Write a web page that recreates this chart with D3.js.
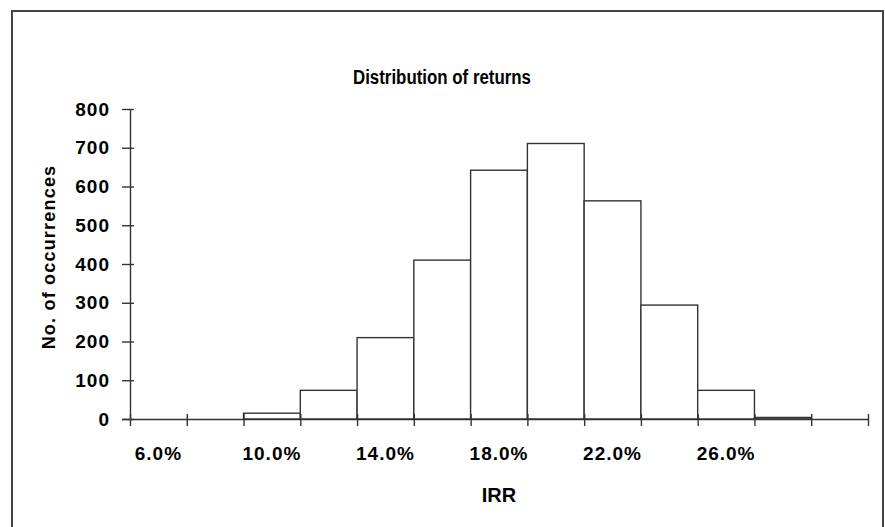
<!DOCTYPE html>
<html>
<head>
<meta charset="utf-8">
<script src="https://cdn.jsdelivr.net/npm/d3@7"></script>
<style>
  body { margin: 0; background: #fff; }
  text { font-family: "Liberation Sans", Arial, sans-serif; font-weight: bold; fill: #000; }
</style>
</head>
<body>
<div id="chart"></div>
<script>
// Histogram bins (IRR) and counts
const categories = ["6.0%", "8.0%", "10.0%", "12.0%", "14.0%", "16.0%", "18.0%",
	"20.0%", "22.0%", "24.0%", "26.0%", "28.0%", "30.0%"];
const counts = [0, 0, 15, 74, 210, 410, 642, 711, 563, 294, 74, 4, 0];
const xLabels = ["6.0%", "10.0%", "14.0%", "18.0%", "22.0%", "26.0%"];
const yTicks = [0, 100, 200, 300, 400, 500, 600, 700, 800];

const width = 885, height = 527;
const plotLeft = 130, plotRight = 868, plotTop = 109, plotBottom = 419;
const lineColor = "#333";

const svg = d3.select("#chart")
	.append("svg")
	.attr("width", width)
	.attr("height", height);

// chart border
svg.append("rect")
	.attr("x", 12)
	.attr("y", 11)
	.attr("width", 871)
	.attr("height", 530)
	.attr("fill", "none")
	.attr("stroke", "#444")
	.attr("stroke-width", 2);

const x = d3.scaleBand().domain(categories).range([plotLeft, plotRight]).padding(0);
const xEdge = d3.scaleLinear().domain([0, categories.length]).range([plotLeft, plotRight]);
const y = d3.scaleLinear().domain([0, 800]).range([plotBottom, plotTop]);

// bars
svg.append("g")
	.selectAll("rect")
	.data(categories)
	.enter()
	.append("rect")
	.attr("x", (d) => x(d))
	.attr("y", (d, i) => y(counts[i]))
	.attr("width", x.bandwidth())
	.attr("height", (d, i) => y(0) - y(counts[i]))
	.attr("fill", "#fff")
	.attr("stroke", lineColor)
	.attr("stroke-width", (d, i) => counts[i] > 0 ? 1.4 : 0);

// y axis
const yAxis = svg.append("g")
	.attr("transform", `translate(${plotLeft},0)`)
	.call(d3.axisLeft(y).tickValues(yTicks).tickSize(8).tickSizeOuter(0).tickPadding(12));
yAxis.selectAll(".tick line").attr("x1", 4);
yAxis.select(".domain").attr("d", `M0.5,${plotTop}V${plotBottom}`);

// x axis: ticks at bin edges
const xAxis = svg.append("g")
	.attr("transform", `translate(0,${plotBottom})`)
	.call(d3.axisBottom(xEdge).tickValues(d3.range(categories.length + 1)).tickFormat("").tickSize(7).tickSizeOuter(0));
xAxis.selectAll(".tick line").attr("y1", -5);
xAxis.select(".domain").attr("d", `M${plotLeft - 8},0.5H${plotRight}`);

// x labels centred in the bins
svg.append("g")
	.attr("transform", `translate(0,${plotBottom})`)
	.call(d3.axisBottom(x).tickValues(xLabels).tickSize(0).tickPadding(28))
	.call((g) => g.select(".domain").remove());

svg.selectAll(".domain, .tick line")
	.attr("stroke", lineColor)
	.attr("stroke-width", 1.4);
svg.selectAll(".tick text")
	.style("font-size", "19px")
	.style("letter-spacing", "1px")
	.style("font-family", "'Liberation Sans', Arial, sans-serif")
	.style("font-weight", "bold");

// titles
svg.append("text")
	.attr("x", 442)
	.attr("y", 84)
	.attr("text-anchor", "middle")
	.style("font-size", "20px")
	.attr("textLength", 178)
	.attr("lengthAdjust", "spacingAndGlyphs")
	.text("Distribution of returns");

svg.append("text")
	.attr("x", (plotLeft + plotRight) / 2)
	.attr("y", 502)
	.attr("text-anchor", "middle")
	.style("font-size", "20px")
	.text("IRR");

svg.append("text")
	.attr("transform", `translate(55,257) rotate(-90)`)
	.attr("text-anchor", "middle")
	.style("font-size", "18px")
	.style("letter-spacing", "1.2px")
	.text("No. of occurrences");
</script>
</body>
</html>
